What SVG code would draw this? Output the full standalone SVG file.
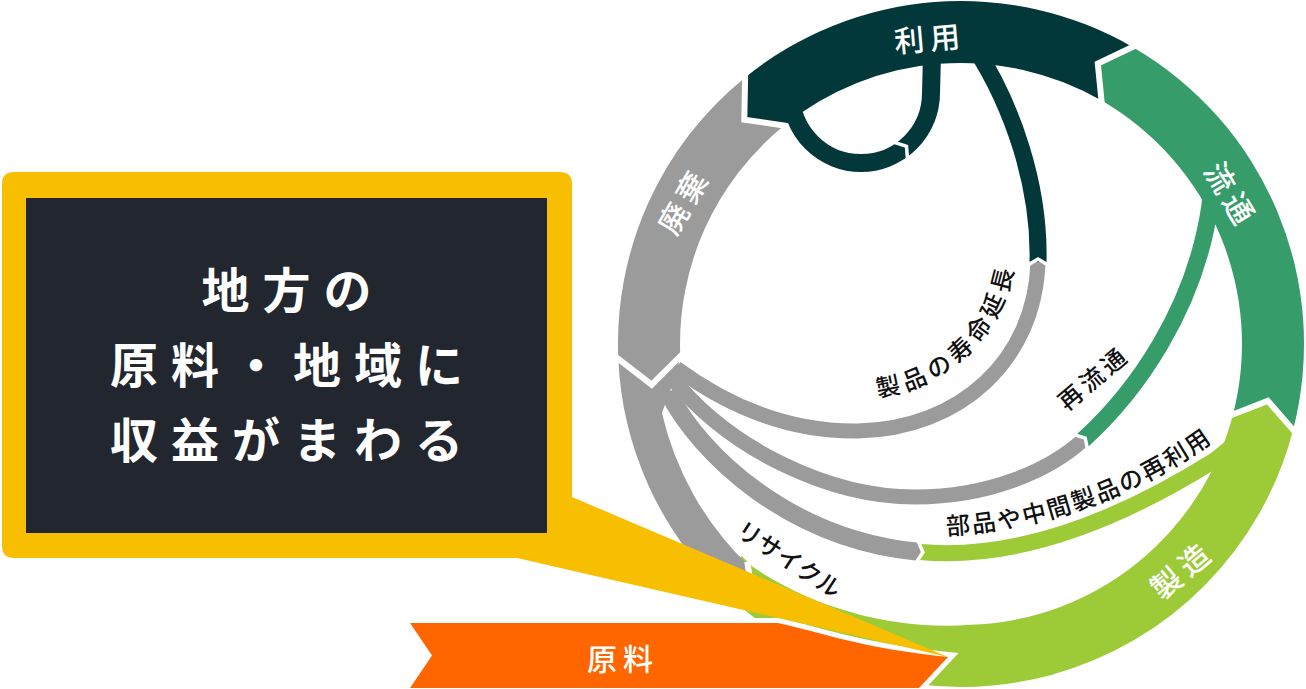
<svg xmlns="http://www.w3.org/2000/svg" width="1306" height="689" viewBox="0 0 1306 689">
<defs>
<style>
.f{font-family:"Noto Sans CJK JP","Noto Sans CJK SC",sans-serif}
.rl{font-size:30px;fill:#ffffff;font-weight:500;letter-spacing:6px;text-anchor:middle;dominant-baseline:central}
.il{font-size:24px;fill:#111111;font-weight:500;dominant-baseline:central}
.cut{fill:none;stroke:#ffffff;stroke-width:6;stroke-linejoin:miter;stroke-linecap:square}
.cut2{fill:none;stroke:#ffffff;stroke-width:3.5;stroke-linejoin:miter}
.s{fill:none;stroke-linecap:butt;stroke-linejoin:round}
.gy{stroke:#9b9b9b}
.dk{stroke:#03383a}
.gm{stroke:#359c6a}
.gl{stroke:#9ccb37}
.bx{font-size:48px;fill:#ffffff;font-weight:700;letter-spacing:13px;text-anchor:middle;dominant-baseline:central}
</style>
<path id="pJumyo" d="M819.1,381.1 A145,145 0 0 0 1000.9,207.9"/>
<path id="pBuhin" d="M874.6,522.2 A485.5,485.5 0 0 0 1261.6,385.9"/>
</defs>

<g id="seg-seizo"><path fill="#9ccb37" d="M718.5,586.5 A343,343 0 0 0 1293.1,429.9 L1267.8,400.9 L1233,414.4 A281,281 0 0 1 970.8,624.8 C900,630 820,612 753,567.1 L741.6,555.9 Z"/></g>
<g id="seg-ryutsu"><path fill="#359c6a" d="M1293.1,429.9 A343,343 0 0 0 1132.5,47 L1097.8,63.6 L1101.5,100.6 A281,281 0 0 1 1233,414.4 L1267.8,400.9 Z"/></g>
<g id="seg-riyo"><path fill="#03383a" d="M1132.5,47 A343,343 0 0 0 745.1,77.4 L744.3,119.6 L784.2,125.6 A281,281 0 0 1 1101.5,100.6 L1097.8,63.6 Z"/></g>
<g id="seg-haiki"><path fill="#9b9b9b" d="M745.1,77.4 A343,343 0 0 0 618.3,359 L651.7,384.7 L680.3,356.3 A281,281 0 0 1 784.2,125.6 L744.3,119.6 Z"/></g>
<g id="seg-recycle"><path fill="#9b9b9b" d="M618.3,359 A343,343 0 0 0 722.7,590.7 L752.1,593 L747.7,564.8 A307,307 0 0 1 661.9,413.1 L676,375 L680.3,356.3 L651.7,384.7 Z"/></g>

<g id="connectors">
<path class="s dk" stroke-width="18" d="M791,88 L791,93 A70,70 0 0 0 861,163 A70,70 0 0 0 931,93 L932,55"/>
<path class="s gy" stroke-width="15" d="M676,368 C740,415 800,432 858,431 C960,429 1035,360 1038,262"/>
<path class="s dk" stroke-width="17" d="M1038,262 C1040,185 1012,105 975,48"/>
<path class="s gy" stroke-width="15" d="M672,378 C730,450 830,497 915,497 C990,497 1050,470 1083,440"/>
<path class="s gm" stroke-width="17" d="M1083,440 C1135,393 1195,310 1210,205 L1212,175"/>
<path class="s gy" stroke-width="18" d="M668,392 C700,455 790,540 920,552"/>
<path class="s gl" stroke-width="16" d="M920,552 C1010,560 1110,526 1215,460 L1240,440"/>
</g>

<g id="cuts">
<polyline class="cut" points="1293.1,429.9 1267.8,400.9 1233,414.4"/>
<polyline class="cut" points="1132.5,47 1097.8,63.6 1101.5,100.6"/>
<polyline class="cut" points="745.1,77.4 744.3,119.6 784.2,125.6"/>
<polyline class="cut" points="618.3,359 651.7,384.7 680.3,356.3"/>
<polyline class="cut" points="722.7,590.7 752.1,593 747.7,564.8"/>
<polyline class="cut2" points="892.8,141.8 906.5,146.4 907.6,160.8"/>
<polyline class="cut2" points="1028,265 1038,259 1048,265"/>
<polyline class="cut2" points="1074.1,434.6 1085.2,438 1087.5,449.4"/>
<polyline class="cut2" points="918,540.7 923,552.3 916,562.7"/>
</g>

<g id="ring-labels" class="f">
<text class="rl" x="930" y="37" transform="rotate(-5 927 37)">利用</text>
<text class="rl" x="1234" y="192" transform="rotate(59 1231 192)">流通</text>
<text class="rl" x="1182" y="570" transform="rotate(-40 1179 570)">製造</text>
<text class="rl" x="684" y="202" transform="rotate(-60 681 202)">廃棄</text>
</g>

<g id="flow-labels" class="f">
<text class="il" letter-spacing="3"><textPath href="#pJumyo" startOffset="50%" text-anchor="middle">製品の寿命延長</textPath></text>
<text class="il" letter-spacing="1.5"><textPath href="#pBuhin" startOffset="50%" text-anchor="middle">部品や中間製品の再利用</textPath></text>
<text class="il" x="1093" y="378" letter-spacing="4" text-anchor="middle" transform="rotate(-40 1091 378)">再流通</text>
<text class="il" x="790" y="558" font-size="21" text-anchor="middle" transform="rotate(33 790 558)">リサイクル</text>
</g>

<g id="genryo">
<path d="M410,623 L778,623 C820,632 860,648 948,657 L919,688 L410,688 L432,655.5 Z" fill="#ff6600" stroke="#ffffff" stroke-width="10" paint-order="stroke" stroke-linejoin="miter"/>
<text class="f rl" x="623" y="657" font-size="31" letter-spacing="4">原料</text>
</g>

<g id="callout">
<path fill="#f8bf00" d="M14,172 H560 Q572,172 572,184 V497 L948,657 L517,558 H14 Q2,558 2,546 V184 Q2,172 14,172 Z"/>
<rect x="26" y="198" width="521" height="335" fill="#21262f"/>
<text class="f bx" x="293" y="287">地方の</text>
<text class="f bx" x="293" y="362">原料・地域に</text>
<text class="f bx" x="293" y="437">収益がまわる</text>
</g>
</svg>
